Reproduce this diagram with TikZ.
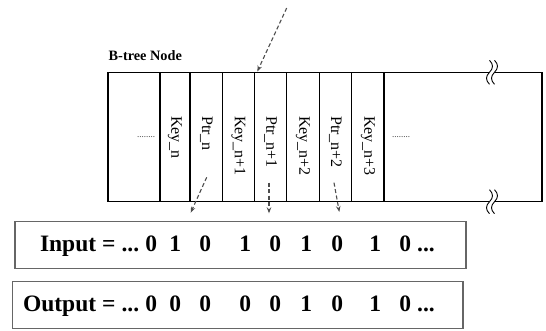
\documentclass[tikz,border=0pt]{standalone}
\usepackage{fontspec}
\setmainfont{Liberation Serif}
\usetikzlibrary{arrows.meta}
\newcommand\btbreak[2]{%
  \fill[white] (#1-2.5,#2-12) .. controls (#1+1.5,#2-8) and (#1+1.5,#2-4) .. (#1-2.5,#2) .. controls (#1-6.5,#2+4) and (#1-6.5,#2+8) .. (#1-2.5,#2+12)
     -- (#1+2.5,#2+12) .. controls (#1-1.5,#2+8) and (#1-1.5,#2+4) .. (#1+2.5,#2) .. controls (#1+6.5,#2-4) and (#1+6.5,#2-8) .. (#1+2.5,#2-12) -- cycle;
  \draw[brk] (#1-2.5,#2-12) .. controls (#1+1.5,#2-8) and (#1+1.5,#2-4) .. (#1-2.5,#2) .. controls (#1-6.5,#2+4) and (#1-6.5,#2+8) .. (#1-2.5,#2+12);
  \draw[brk] (#1+2.5,#2-12) .. controls (#1+6.5,#2-8) and (#1+6.5,#2-4) .. (#1+2.5,#2) .. controls (#1-1.5,#2+4) and (#1-1.5,#2+8) .. (#1+2.5,#2+12);
}
\newcommand\dg[1]{\makebox[0pt]{#1}}
\newcommand\wsp{\hspace{6pt}}
\begin{document}
\begin{tikzpicture}[x=1pt,y=-1pt,
  wall/.style={line width=1.5pt, line join=miter},
  divider/.style={line width=1.3pt},
  brk/.style={line width=0.9pt},
  ptr/.style={dash pattern=on 4pt off 2.5pt, draw=black!70, line width=1.1pt,
    -{Stealth[length=6pt,width=4.5pt]}},
  iobox/.style={draw=black!60, line width=1.3pt},
  lbl/.style={rotate=-90, anchor=west, inner sep=0pt, font=\fontsize{16}{16}\selectfont},
  dotsl/.style={inner sep=0pt, font=\fontsize{9}{9}\selectfont, text=black!80},
  big/.style={anchor=base west, inner sep=0pt, font=\bfseries\fontsize{23.5}{23.5}\selectfont},
]
\useasboundingbox (0,0) rectangle (546,331);

% B-tree node frame
\draw[wall] (108,72.3) -- (542,72.3) -- (542,201.7) -- (108,201.7) -- cycle;
\foreach \x in {160,190,222.7,254.3,286.7,319.3,351.7,384}
  \draw[divider] (\x,72.3) -- (\x,201.7);
\btbreak{492}{72.3}
\btbreak{492}{201.7}

\node[anchor=base west, inner sep=0pt, font=\bfseries\fontsize{14.3}{14.3}\selectfont] (title) at (108.5,60.7) {B-tree Node};

\node[dotsl] (dl) at (146,137) {........};
\node[dotsl] (dr) at (401,137) {........};

\node[lbl] (k1) at (175,116) {Key\_n};
\node[lbl] (p1) at (206.3,116) {Ptr\_n};
\node[lbl] (k2) at (238.5,116) {Key\_n+1};
\node[lbl] (p2) at (270.5,116) {Ptr\_n+1};
\node[lbl] (k3) at (303,116) {Key\_n+2};
\node[lbl] (p3) at (335.5,116) {Ptr\_n+2};
\node[lbl] (k4) at (368,116) {Key\_n+3};

% pointer arrows
\coordinate (t0) at (286.7,8);
\coordinate (t1) at (257.3,71.5);
\draw[ptr] (t0) -- (t1);
\coordinate (a0) at (206.7,177.3);
\coordinate (a1) at (190.7,212.7);
\draw[ptr] (a0) -- (a1);
\coordinate (b0) at (269,182.7);
\coordinate (b1) at (269,213.3);
\draw[ptr] (b0) -- (b1);
\coordinate (c0) at (334,182.7);
\coordinate (c1) at (339.3,212);
\draw[ptr] (c0) -- (c1);

% input / output boxes
\draw[iobox] (15,221.3) rectangle (466,268.7);
\draw[iobox] (12.7,281.3) rectangle (463,328.7);

\node[big] (inp) at (39,251.3) {\makebox[100pt][r]{Input\wsp=\wsp...}\hspace{12pt}\dg{0}\hspace{24pt}\dg{1}\hspace{30pt}\dg{0}\hspace{40pt}\dg{1}\hspace{30pt}\dg{0}\hspace{31pt}\dg{1}\hspace{31pt}\dg{0}\hspace{38pt}\dg{1}\hspace{30pt}\dg{0}\hspace{12pt}...};
\node[big] (outp) at (39,311.3) {\makebox[100pt][r]{Output\wsp=\wsp...}\hspace{12pt}\dg{0}\hspace{24pt}\dg{0}\hspace{30pt}\dg{0}\hspace{40pt}\dg{0}\hspace{30pt}\dg{0}\hspace{31pt}\dg{1}\hspace{31pt}\dg{0}\hspace{38pt}\dg{1}\hspace{30pt}\dg{0}\hspace{12pt}...};
\end{tikzpicture}
\end{document}
